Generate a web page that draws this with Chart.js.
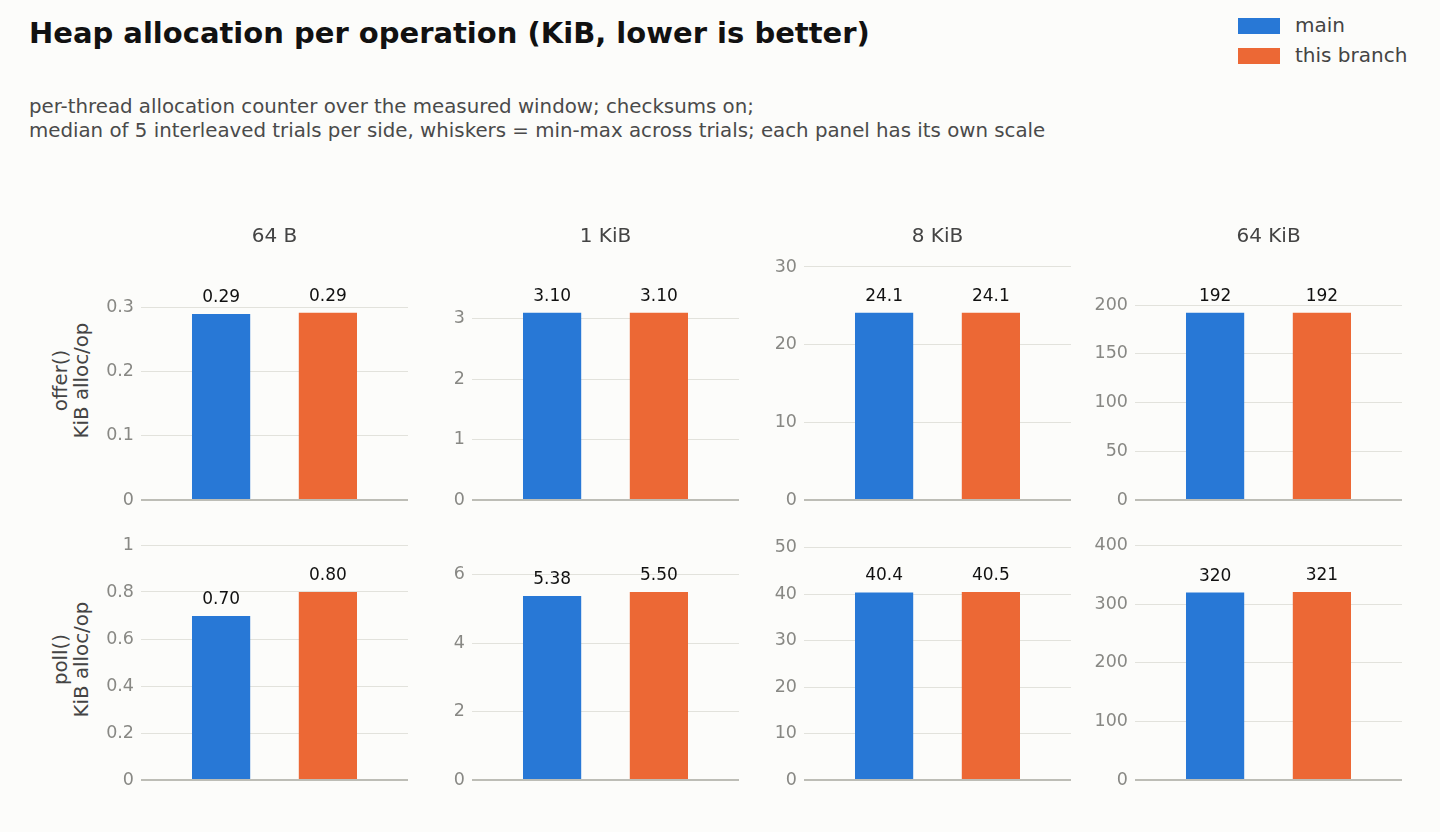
<!DOCTYPE html>
<html>
<head>
<meta charset="utf-8">
<script src="https://cdn.jsdelivr.net/npm/chart.js@4.4.1/dist/chart.umd.min.js"></script>
<style>
html,body{margin:0;padding:0;background:#fcfcfa;}
body{width:1440px;height:832px;position:relative;overflow:hidden;font-family:'DejaVu Sans',sans-serif;}
.txt{position:absolute;white-space:nowrap;line-height:1;}
#title{left:29px;top:18.5px;font-size:29px;font-weight:bold;color:#111;}
#sub{left:29px;top:94.5px;font-size:19.8px;line-height:24px;color:#4a4a4a;}
.leg{position:absolute;left:1238px;width:42px;height:16px;}
.legtxt{left:1295px;font-size:20px;color:#444;}
.rowlab{position:absolute;width:240px;margin-left:-120px;margin-top:-20.5px;text-align:center;font-size:19.8px;line-height:20.5px;color:#444;transform:rotate(-90deg);}
canvas{position:absolute;}
</style>
</head>
<body>
<div id="title" class="txt">Heap allocation per operation (KiB, lower is better)</div>
<div id="sub" class="txt">per-thread allocation counter over the measured window; checksums on;<br>median of 5 interleaved trials per side, whiskers = min-max across trials; each panel has its own scale</div>
<div id="legend"></div>
<div id="rowlabels"></div>
<div id="panels"></div>
<script>
// chart data
const panelTitles = ['64 B', '1 KiB', '8 KiB', '64 KiB'];
const rowNames = ['offer()', 'poll()'];
const rowUnit = 'KiB alloc/op';
const seriesNames = ['main', 'this branch'];
const offerMain   = [0.290, 3.10, 24.1, 192];
const offerBranch = [0.292, 3.10, 24.1, 192];
const pollMain    = [0.698, 5.38, 40.4, 320];
const pollBranch  = [0.800, 5.50, 40.5, 321];
const offerTickSteps = [0.1, 1, 10, 50];
const pollTickSteps  = [0.2, 2, 10, 100];
const labelDecimals  = [2, 2, 1, 0];

// layout
const COLORS = ['#2878d6', '#ec6835'];
const plotLefts = [141, 472, 804, 1135];
const PLOT_W = 267, AXIS_W = 60, PAD_R = 4, PAD_B = 11;
const FONT = "'DejaVu Sans', sans-serif";
const rows = [
    {top: 210, padTop: 56, bottom: 500, main: offerMain, branch: offerBranch, steps: offerTickSteps, titles: true},
    {top: 533, padTop: 12, bottom: 780, main: pollMain, branch: pollBranch, steps: pollTickSteps, titles: false}
];

// legend
const legendEl = document.getElementById('legend');
seriesNames.forEach((name, i) => {
    const sw = document.createElement('div');
    sw.className = 'leg'; sw.style.top = (18 + i * 30) + 'px'; sw.style.background = COLORS[i];
    legendEl.appendChild(sw);
    const t = document.createElement('div');
    t.className = 'txt legtxt'; t.style.top = (15 + i * 30) + 'px'; t.textContent = name;
    legendEl.appendChild(t);
});

// row labels
const rlEl = document.getElementById('rowlabels');
rows.forEach((r, i) => {
    const d = document.createElement('div');
    d.className = 'rowlab';
    d.style.left = '71px';
    d.style.top = ((r.top + r.padTop + r.bottom) / 2 - 3) + 'px';
    d.innerHTML = rowNames[i] + '<br>' + rowUnit;
    rlEl.appendChild(d);
});

const barLabels = {
    id: 'barLabels',
    afterDatasetsDraw(chart, args, opts) {
        const {ctx, chartArea} = chart;
        ctx.save();
        ctx.font = '17px ' + FONT;
        ctx.fillStyle = '#111';
        ctx.textAlign = 'center';
        ctx.textBaseline = 'alphabetic';
        chart.data.datasets.forEach((ds, i) => {
            chart.getDatasetMeta(i).data.forEach((bar, j) => {
                ctx.fillText(ds.data[j].toFixed(opts.decimals), bar.x, bar.y - 12);
            });
        });
        if (opts.title) {
            ctx.font = '20px ' + FONT;
            ctx.fillStyle = '#444';
            ctx.textBaseline = 'middle';
            ctx.fillText(opts.title, (chartArea.left + chartArea.right) / 2, chartArea.top - 29);
        }
        ctx.restore();
    }
};

const panelsEl = document.getElementById('panels');
rows.forEach((r, ri) => {
    panelTitles.forEach((pt, ci) => {
        const cv = document.createElement('canvas');
        const w = AXIS_W + PLOT_W + PAD_R, h = r.bottom + PAD_B - r.top;
        cv.width = w; cv.height = h;
        cv.style.width = w + 'px'; cv.style.height = h + 'px';
        cv.style.left = (plotLefts[ci] - AXIS_W) + 'px';
        cv.style.top = r.top + 'px';
        panelsEl.appendChild(cv);
        const vals = [r.main[ci], r.branch[ci]];
        const step = r.steps[ci];
        const yMax = Math.max(...vals) * 1.25;
        new Chart(cv, {
            type: 'bar',
            data: {
                labels: [pt],
                datasets: seriesNames.map((name, si) => ({
                    label: name,
                    data: [vals[si]],
                    backgroundColor: COLORS[si],
                    borderWidth: 0,
                    categoryPercentage: 0.8,
                    barPercentage: 0.545
                }))
            },
            options: {
                responsive: false,
                animation: false,
                devicePixelRatio: 1,
                layout: {padding: {top: r.padTop, bottom: PAD_B, left: 0, right: PAD_R}},
                plugins: {
                    legend: {display: false},
                    tooltip: {enabled: false},
                    barLabels: {decimals: labelDecimals[ci], title: r.titles ? pt : null}
                },
                scales: {
                    x: {display: false},
                    y: {
                        min: 0,
                        max: yMax,
                        afterFit: s => { s.width = AXIS_W; s.paddingTop = 0; s.paddingBottom = 0; },
                        afterBuildTicks: s => {
                            const t = [];
                            for (let k = 0; k * step <= yMax + 1e-9; k++) t.push({value: Math.round(k * step * 1e6) / 1e6});
                            s.ticks = t;
                        },
                        border: {display: false},
                        grid: {
                            drawTicks: false,
                            color: c => c.tick && c.tick.value === 0 ? '#bdbdb6' : '#e2e2dc',
                            lineWidth: c => c.tick && c.tick.value === 0 ? 2 : 1
                        },
                        ticks: {
                            padding: 7,
                            color: '#888884',
                            font: {family: FONT, size: 17.5},
                            callback: v => String(v)
                        }
                    }
                }
            },
            plugins: [barLabels]
        });
    });
});
</script>
</body>
</html>
